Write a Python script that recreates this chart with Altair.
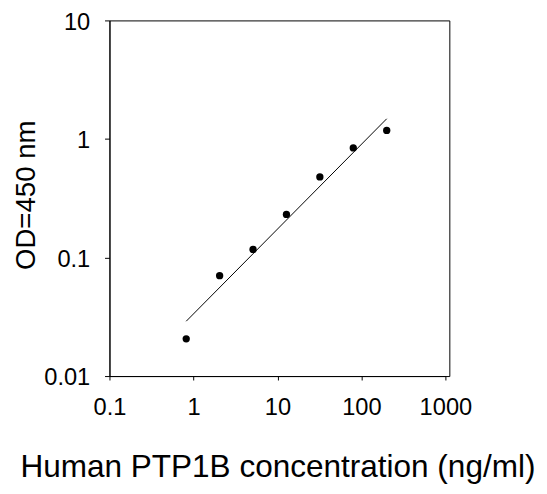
import altair as alt
import pandas as pd

# Data
conc = [0.82, 2.05, 5.12, 12.8, 32, 80, 200]
od = [0.0206, 0.0703, 0.117, 0.231, 0.478, 0.841, 1.18]
fit_conc = [0.82, 200]
fit_od = [0.029, 1.48]
x_ticks = [0.1, 1, 10, 100, 1000]
y_ticks = [0.01, 0.1, 1, 10]

FONT = "Liberation Sans"
W_AXIS = 341
W = 345
H = 361

pts = pd.DataFrame({"conc": conc, "od": od})
fit = pd.DataFrame({"conc": fit_conc, "od": fit_od})

xscale = alt.Scale(type="log", domain=[0.1, 1000], range=[0, W_AXIS])
yscale = alt.Scale(type="log", domain=[0.01, 10])

xaxis = alt.Axis(
    values=x_ticks, format="~g", grid=False, tickSize=4, labelPadding=16,
    labelFontSize=24, labelFont=FONT, labelColor="black", labelFlush=False,
    labelOverlap=False, domainColor="black", tickColor="black",
    title="Human PTP1B concentration (ng/ml)", titleFont=FONT, titleFontSize=32,
    titleFontWeight="normal", titleColor="black", titleBaseline="alphabetic",
    titleY=102,
)
yaxis = alt.Axis(
    values=y_ticks, format="~g", grid=False, tickSize=5, labelPadding=15,
    labelOffset=2, labelFontSize=24, labelFont=FONT, labelColor="black",
    labelFlush=False, labelOverlap=False, domainColor="black", tickColor="black",
    title="OD=450 nm", titleFont=FONT, titleFontSize=28, titleFontWeight="normal",
    titleColor="black", titleBaseline="alphabetic", titleX=-76, titleY=177,
)

points = alt.Chart(pts).mark_circle(size=55, opacity=1, color="black").encode(
    x=alt.X("conc:Q", scale=xscale, axis=xaxis),
    y=alt.Y("od:Q", scale=yscale, axis=yaxis),
)
line = alt.Chart(fit).mark_line(color="black", strokeWidth=1).encode(
    x=alt.X("conc:Q", scale=xscale),
    y=alt.Y("od:Q", scale=yscale),
)

chart = (
    alt.layer(line, points)
    .properties(
        width=W, height=H, autosize="none",
        padding={"left": 103, "top": 9, "right": 91, "bottom": 108},
        background="white",
    )
    .configure_view(stroke="black", strokeWidth=1)
)

chart.save("out.html", embed_options={"renderer": "svg", "actions": False})
